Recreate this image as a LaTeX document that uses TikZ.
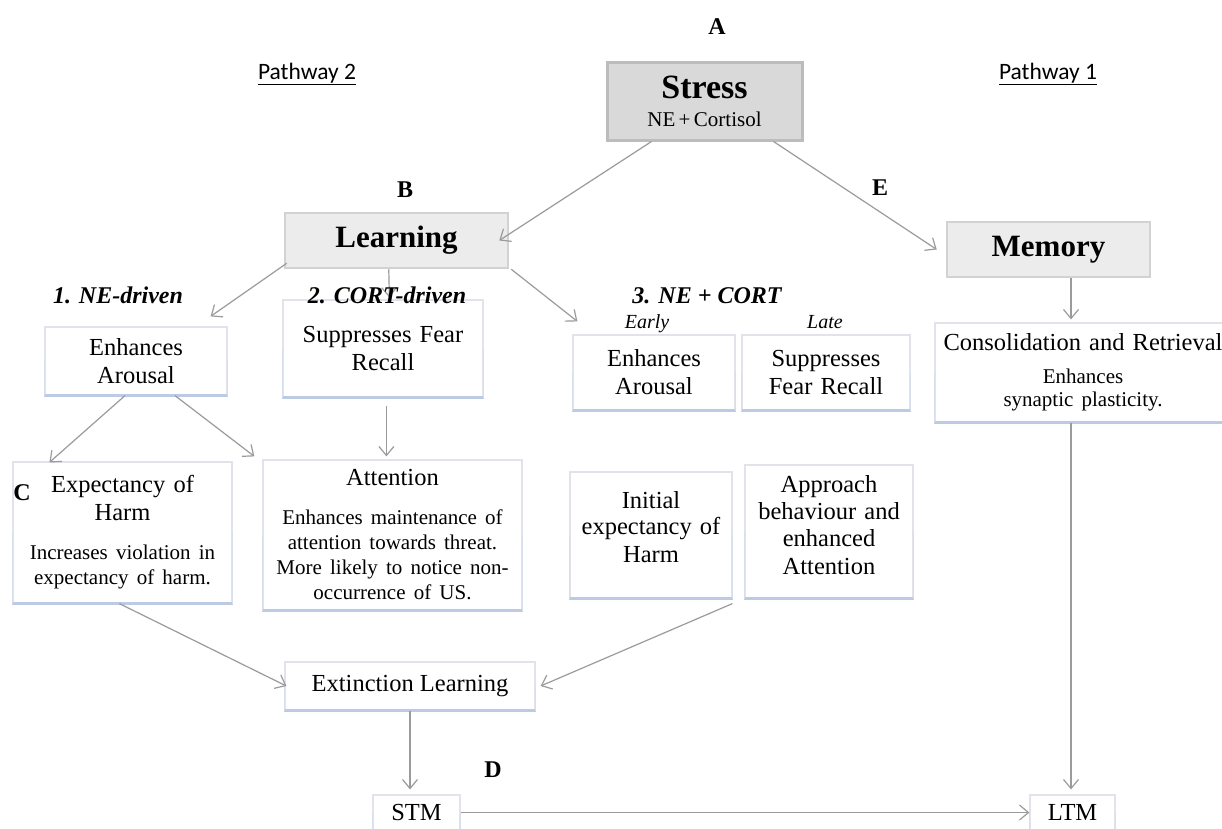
\documentclass[tikz,border=0pt]{standalone}
\usepackage{fontspec}
\setmainfont{Liberation Serif}
\newfontfamily\pwfont{Carlito}
\usetikzlibrary{arrows.meta}
\definecolor{arrowgray}{RGB}{155,155,155}
\definecolor{boxline}{RGB}{224,227,234}
\definecolor{boxblue}{RGB}{188,202,228}
\definecolor{stressfill}{RGB}{217,217,217}
\definecolor{stressline}{RGB}{188,188,188}
\definecolor{lfill}{RGB}{236,236,236}
\definecolor{lline}{RGB}{210,210,210}
\newcommand\fsbody{\fontsize{24.5}{28}\selectfont}
\newcommand\fssmall{\fontsize{21}{25}\selectfont}
\begin{document}
\begin{tikzpicture}[x=1pt,y=-1pt,
  box/.style={draw=boxline, line width=1.2pt, fill=white, inner sep=0pt, align=center, font=\fsbody,
    append after command={(\tikzlastnode.south west) edge[draw=boxblue, line width=2.4pt] (\tikzlastnode.south east)
      (\tikzlastnode.west) edge[draw=boxblue!60, line width=1.6pt] (\tikzlastnode.south west)
      (\tikzlastnode.east) edge[draw=boxblue!60, line width=1.6pt] (\tikzlastnode.south east)}},
  stressbox/.style={draw=stressline, line width=3pt, fill=stressfill, align=center, inner sep=0pt},
  headbox/.style={draw=lline, line width=2.5pt, fill=lfill, inner sep=0pt, font=\fontsize{31}{36}\selectfont\bfseries},
  arr/.style={draw=arrowgray, line width=1.2pt, -{Straight Barb[length=9pt,width=15pt]}},
  letter/.style={font=\fontsize{24}{28}\selectfont\bfseries},
  pathway/.style={font=\pwfont\fontsize{23.5}{28}\selectfont},
  heading/.style={font=\fontsize{24}{28}\selectfont\bfseries\itshape},
  phase/.style={font=\fontsize{20}{24}\selectfont\itshape}]
\useasboundingbox[fill=white] (0,0) rectangle (1222,828);

% top nodes
\node[stressbox, minimum width=195pt, minimum height=78pt, text width=190pt] (stress) at (704.5,101)
  {{\fontsize{34}{38}\selectfont\bfseries Stress\par}\vspace{3pt}{\fontsize{21}{25}\selectfont NE + Cortisol\par}};
\node[headbox, minimum width=223pt, minimum height=55pt] (learning) at (396.5,240.5) {Learning};
\node[headbox, minimum width=203pt, minimum height=55pt] (memory) at (1048.5,249.5) {Memory};

% row 1
\node[box, minimum width=182pt, minimum height=68pt, text width=178pt] (enA) at (136,361) {Enhances\\Arousal};
\node[box, minimum width=200pt, minimum height=97pt, text width=196pt] (supp) at (383,348.5) {Suppresses Fear\\Recall};
\node[box, minimum width=162pt, minimum height=75pt, text width=158pt] (early) at (654,372.5) {Enhances\\Arousal};
\node[box, minimum width=168pt, minimum height=75pt, text width=164pt] (late) at (826,372.5) {Suppresses\\Fear Recall};
\node[box, minimum width=296pt, minimum height=99pt, text width=292pt] (cons) at (1083,372.5)
  {{\fsbody Consolidation and Retrieval\par}\vspace{10.5pt}{\fontsize{21}{22.5}\selectfont Enhances\\synaptic plasticity.\par}};

% row 2
\node[box, minimum width=219pt, minimum height=141pt, text width=215pt] (expect) at (122.5,532.5)
  {{\fsbody Expectancy of\\Harm\par}\vspace{14pt}{\fssmall Increases violation in\\expectancy of harm.\par}};
\node[box, minimum width=259pt, minimum height=150pt, text width=255pt] (attn) at (392.5,535)
  {{\fsbody Attention\par}\vspace{14pt}{\fssmall Enhances maintenance of\\attention towards threat.\\More likely to notice non-\\occurrence of US.\par}};
\node[box, minimum width=162pt, minimum height=126pt, text width=158pt, text depth=70pt] (init) at (651,535)
  {\fontsize{24.5}{26}\selectfont Initial\\expectancy of\\Harm};
\node[box, minimum width=168pt, minimum height=133pt, text width=164pt, text depth=96pt] (appr) at (829,531.5)
  {\fontsize{24.5}{27}\selectfont Approach\\behaviour and\\enhanced\\Attention};

% bottom
\node[box, minimum width=250pt, minimum height=48pt] (ext) at (410,686) {Extinction Learning};
\node[box, minimum width=87pt, minimum height=35pt] (stm) at (416.5,812.5) {STM};
\node[box, minimum width=85pt, minimum height=35pt] (ltm) at (1072.5,812.5) {LTM};

% helper coordinates
\coordinate (lx) at (1071,0);
\coordinate (ex) at (410,0);

% connectors
\draw[arr] ([xshift=46pt]stress.south west) -- ([xshift=-10pt]learning.east);
\draw[arr] ([xshift=-30pt]stress.south east) -- ([xshift=-9pt]memory.west);
\draw[arr] ([xshift=3pt,yshift=6pt]learning.south west) -- ([xshift=-17pt,yshift=10pt]enA.north east);
\draw[arr] ([xshift=105pt]learning.south west) -- ([xshift=107pt,yshift=2pt]supp.north west);
\draw[arr] ([xshift=2pt]learning.south east) -- ([xshift=5pt,yshift=13pt]early.north west);
\draw[arr] (memory.south -| lx) -- ([yshift=3pt]cons.north -| lx);
\draw[arr] ([xshift=-11pt]enA.south) -- ([xshift=37pt,yshift=-1pt]expect.north west);
\draw[arr] ([xshift=39pt]enA.south) -- ([xshift=-8pt,yshift=3pt]attn.north west);
\draw[arr] ([xshift=104pt,yshift=-8pt]supp.south west) -- ([xshift=124pt,yshift=3pt]attn.north west);
\draw[arr] ([xshift=107pt]expect.south west) -- ([xshift=2pt]ext.west);
\draw[arr] ([xshift=-12pt,yshift=-5pt]appr.south west) -- ([xshift=5pt]ext.east);
\draw[arr] (ext.south -| ex) -- ([yshift=5pt]stm.north -| ex);
\draw[arr] (stm.east) -- (ltm.west);
\draw[arr] (cons.south -| lx) -- ([yshift=5pt]ltm.north -| lx);

% labels
\node[letter] (lA) at (717,27) {A};
\node[letter] (lB) at (405,190) {B};
\node[letter] (lE) at (880,188) {E};
\node[letter] (lC) at (22,493) {C};
\node[letter] (lD) at (493,770) {D};
\node[pathway] (pw2) at (307,74) {\underline{Pathway 2}};
\node[pathway] (pw1) at (1048,74) {\underline{Pathway 1}};
\node[heading, anchor=base] (h1) at (118,303) {1. NE-driven};
\node[heading, anchor=base] (h2) at (387,303) {2. CORT-driven};
\node[heading, anchor=base] (h3) at (707,303) {3. NE + CORT};
\node[phase, anchor=base] (pe) at (647,328) {Early};
\node[phase, anchor=base] (pl) at (825,328) {Late};
\end{tikzpicture}
\end{document}
